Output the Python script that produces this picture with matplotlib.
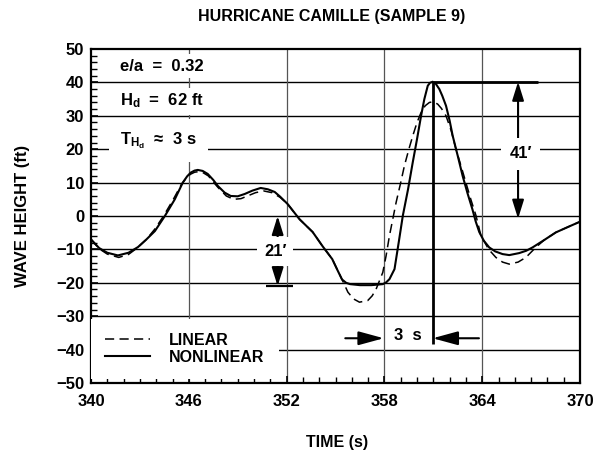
import numpy as np
import matplotlib.pyplot as plt
from matplotlib.ticker import MultipleLocator

plt.rcParams['font.family'] = ['Liberation Sans', 'DejaVu Sans']
plt.rcParams['font.weight'] = 'bold'
plt.rcParams['mathtext.fontset'] = 'custom'
plt.rcParams['mathtext.rm'] = 'Liberation Sans:bold'
plt.rcParams['mathtext.it'] = 'Liberation Sans:bold'
plt.rcParams['mathtext.bf'] = 'Liberation Sans:bold'

# nonlinear record (solid)
time_nl = [340.0, 340.5, 341.0, 341.65, 342.3, 342.88, 343.4, 343.92, 344.53, 345.14,
           345.63, 345.9, 346.12, 346.35, 346.55, 346.85, 347.16, 347.5, 347.78, 348.2,
           348.57, 349.0, 349.43, 349.9, 350.41, 350.85, 351.27, 351.6, 352.06, 352.8,
           353.6, 354.2, 354.8, 355.1, 355.4, 355.65, 355.9, 356.5, 357.2, 357.9,
           358.1, 358.31, 358.62, 358.9, 359.13, 359.45, 359.74, 360.0, 360.25, 360.45,
           360.66, 360.8, 360.96, 361.15, 361.37, 361.55, 361.78, 362.0, 362.19, 362.5,
           362.8, 363.1, 363.4, 363.6, 363.82, 364.1, 364.43, 364.8, 365.25, 365.66,
           366.27, 366.7, 367.09, 367.8, 368.52, 369.3, 370.0]
wave_nl = [-7.0, -9.6, -11.0, -11.8, -11.0, -9.3, -7.0, -4.5, 0.0, 5.0,
           10.0, 11.9, 13.0, 13.6, 13.8, 13.5, 12.6, 10.8, 9.0, 7.0,
           6.0, 5.9, 6.6, 7.6, 8.4, 8.0, 7.2, 5.8, 3.6, -1.0,
           -4.8, -9.0, -12.9, -16.0, -19.0, -20.0, -20.4, -20.7, -20.7, -20.4,
           -19.9, -18.9, -15.9, -7.2, 0.1, 8.0, 16.1, 23.0, 30.0, 35.0,
           39.0, 39.9, 40.2, 39.6, 38.0, 36.0, 33.0, 28.6, 24.0, 18.0,
           12.0, 6.8, 2.0, -1.6, -4.8, -7.4, -9.4, -10.6, -11.4, -11.7,
           -11.1, -10.4, -9.4, -7.2, -4.9, -3.2, -1.7]

# linear record (dashed)
time_lin = [340.0, 340.5, 341.0, 341.7, 342.3, 342.85, 343.4, 343.9, 344.45, 345.05,
            345.55, 345.85, 346.1, 346.35, 346.6, 346.9, 347.2, 347.5, 347.8, 348.3,
            348.75, 349.2, 349.6, 350.1, 350.6, 351.1, 351.6, 352.06, 352.8, 353.6,
            354.2, 354.8, 355.4, 355.76, 356.1, 356.47, 356.98, 357.25, 357.49, 357.9,
            358.1, 358.31, 358.72, 359.0, 359.23, 359.5, 359.74, 360.0, 360.25, 360.5,
            360.76, 361.0, 361.27, 361.5, 361.78, 362.1, 362.39, 362.7, 363.0, 363.3,
            363.62, 363.92, 364.4, 364.84, 365.25, 365.66, 366.2, 366.68, 367.29, 367.8,
            368.52, 369.3, 370.0]
wave_lin = [-7.0, -9.8, -11.4, -12.4, -11.5, -9.5, -7.0, -4.0, 0.0, 5.0,
            9.5, 11.4, 12.5, 13.1, 13.3, 12.9, 12.0, 10.2, 8.5, 6.0,
            5.0, 5.2, 6.0, 7.0, 7.5, 7.0, 5.6, 3.6, -1.0, -4.8,
            -9.0, -12.9, -19.0, -22.8, -24.8, -25.8, -25.3, -23.9, -21.9, -16.9,
            -12.0, -5.9, 4.1, 10.0, 15.1, 20.0, 24.0, 28.0, 31.0, 33.0,
            34.0, 34.2, 33.5, 32.2, 30.0, 25.5, 20.0, 15.0, 10.0, 5.0,
            0.1, -5.9, -10.0, -12.4, -13.8, -14.4, -13.8, -12.4, -9.4, -7.2,
            -4.9, -3.2, -1.7]

x_ticks = [340, 346, 352, 358, 364, 370]
y_ticks = list(range(-50, 51, 10))

# marked heights and period
trough_drop = 21
crest_range = 41
period = 3

fig = plt.figure(figsize=(5.98, 4.53), dpi=100)
ax = fig.add_axes([0.1522, 0.1545, 0.8177, 0.7373])

for y in y_ticks[1:-1]:
    ax.axhline(y, color='black', lw=1.0, zorder=1)
for x in x_ticks[1:-1]:
    ax.axvline(x, color='#555555', lw=0.9, zorder=1)

l_lin, = ax.plot(time_lin, wave_lin, color='black', lw=1.1, dashes=(6, 3.5), zorder=3)
l_nl, = ax.plot(time_nl, wave_nl, color='black', lw=1.5, zorder=3)

ax.set_xlim(340, 370)
ax.set_ylim(-50, 50)
ax.set_xticks(x_ticks)
ax.set_yticks(y_ticks)
ax.xaxis.set_minor_locator(MultipleLocator(1))
ax.yaxis.set_minor_locator(MultipleLocator(2))
ax.tick_params(which='both', direction='in', top=False, right=False)
ax.tick_params(which='major', length=5, width=1.2, labelsize=12)
ax.tick_params(which='minor', length=4, width=1.0)
ax.tick_params(axis='x', which='major', pad=8)
ax.tick_params(axis='y', which='major', pad=5)
for s in ax.spines.values():
    s.set_linewidth(1.6)

box = dict(facecolor='white', edgecolor='none', pad=3)
ax.text(341.8, 44.9, 'e/a  =  0.32', fontsize=12, va='center', ha='left', bbox=box, zorder=4)
ax.text(341.8, 34.4, r'$\mathrm{H_d}$  =  62 ft', fontsize=12, va='center', ha='left', bbox=box, zorder=4)
ax.text(341.8, 22.5, r'$\mathrm{T_{H_d}}$  ≈  3 s', fontsize=12, va='center', ha='left',
        bbox=dict(facecolor='white', edgecolor='none', pad=8), zorder=4)

crest_i = int(np.argmax(wave_nl))
crest_t = time_nl[crest_i]
crest_h = wave_nl[crest_i]

arrow = dict(arrowstyle='<|-|>,head_length=0.8,head_width=0.25', color='black', lw=1.5,
             shrinkA=0, shrinkB=0, mutation_scale=14)
one_way = dict(arrowstyle='-|>,head_length=1.1,head_width=0.3', color='black', lw=1.5,
               shrinkA=0, shrinkB=0, mutation_scale=14)

# trough drop marker
ax.hlines(-trough_drop, 350.75, 352.4, color='black', lw=1.6, zorder=3)
ax.annotate('', xy=(351.45, 0), xytext=(351.45, -trough_drop), arrowprops=arrow, zorder=4)
ax.text(351.3, -10.5, "21\u2032", fontsize=12, ha='center', va='center',
        bbox=dict(facecolor='white', edgecolor='none', pad=5), zorder=5)

# crest height marker
ax.hlines(crest_h, crest_t, 367.4, color='black', lw=2.0, zorder=3)
ax.annotate('', xy=(366.2, crest_h), xytext=(366.2, crest_h - crest_range),
            arrowprops=arrow, zorder=4)
ax.text(366.35, 18.6, "41\u2032", fontsize=12, ha='center', va='center',
        bbox=dict(facecolor='white', edgecolor='none', pad=6), zorder=5)

# period marker
ax.vlines(crest_t, -38.3, crest_h, color='black', lw=2.0, zorder=3)
ax.annotate('', xy=(crest_t - period, -36.6), xytext=(355.6, -36.6), arrowprops=one_way, zorder=4)
ax.annotate('', xy=(crest_t, -36.6), xytext=(363.8, -36.6), arrowprops=one_way, zorder=4)
ax.text(crest_t - period / 2, -35.8, '3  s', fontsize=12, ha='center', va='center', zorder=5)

ax.legend([l_lin, l_nl], ['LINEAR', 'NONLINEAR'], loc='lower left',
          bbox_to_anchor=(0.0, 0.012), borderaxespad=0, borderpad=0.9,
          frameon=True, facecolor='white', edgecolor='none', framealpha=1, fancybox=False,
          handlelength=2.8, handletextpad=1.2, labelspacing=0.1,
          prop={'weight': 'bold', 'size': 11.5})

fig.text(332 / 598, 1 - 17 / 453, 'HURRICANE CAMILLE (SAMPLE 9)', fontsize=11.5,
         ha='center', va='center')
fig.text(22 / 598, 1 - 216 / 453, 'WAVE HEIGHT (ft)', fontsize=12, rotation=90,
         ha='center', va='center')
fig.text(337 / 598, 1 - 442 / 453, 'TIME (s)', fontsize=11.5, ha='center', va='center')

fig.savefig('out.png', dpi=100)
